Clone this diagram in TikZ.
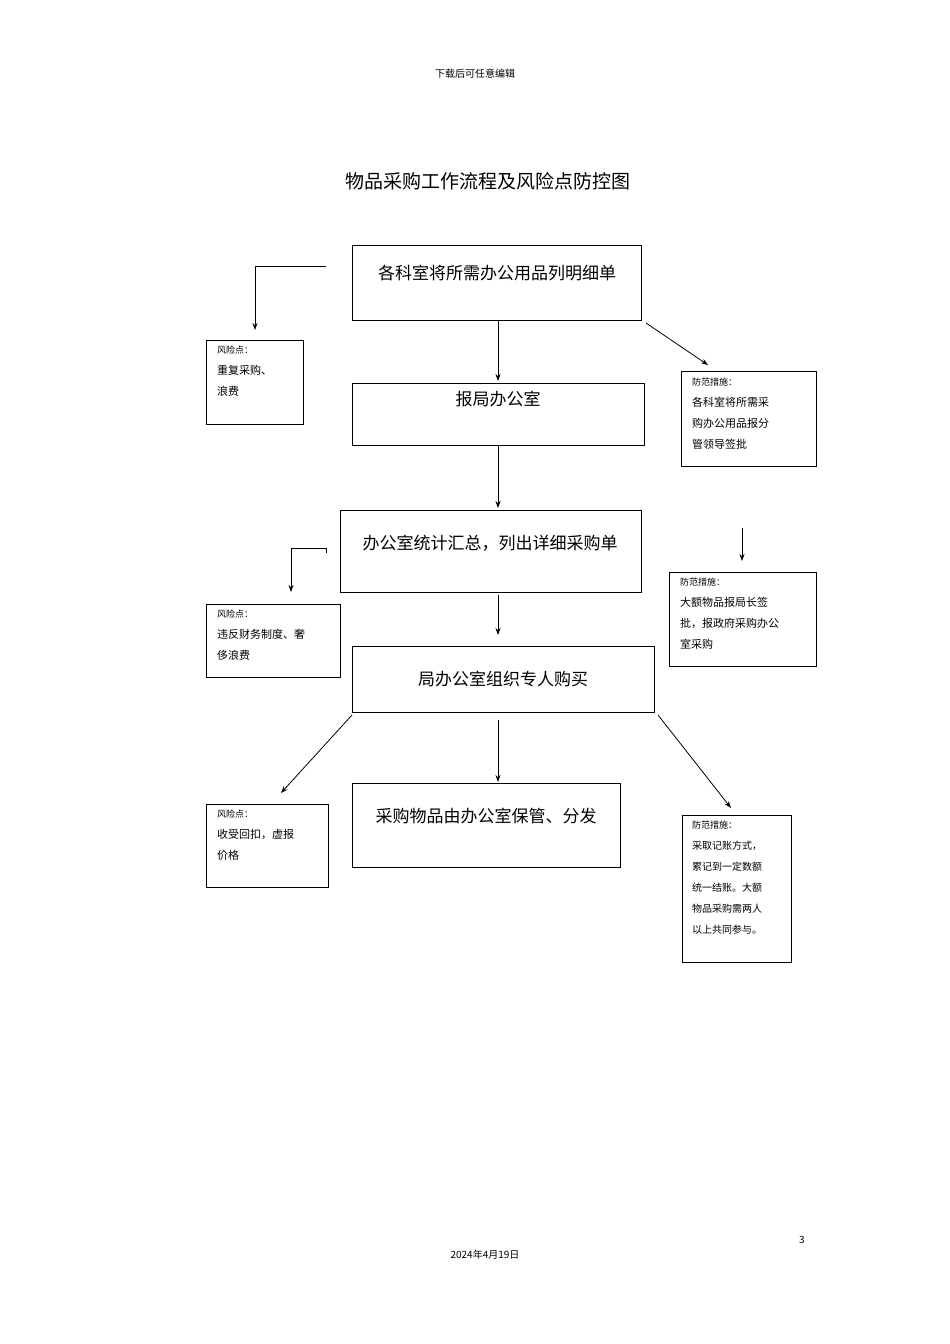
\documentclass[tikz,border=0pt]{standalone}
\usepackage{fontspec}
\usetikzlibrary{arrows.meta}
\setmainfont{Noto Sans CJK SC}
\begin{document}
\begin{tikzpicture}[x=1pt,y=-1pt,
 box/.style={draw,line width=0.6pt},
 big/.style={font=\fontsize{17}{20}\selectfont,anchor=center},
 sm/.style={font=\fontsize{11}{21}\selectfont,align=left,anchor=north west,inner sep=0pt},
 arr/.style={-{Stealth[length=7pt,width=5pt]},line width=0.8pt}]
\useasboundingbox[fill=white] (0,0) rectangle (950,1344);
\node[font=\fontsize{10}{12}\selectfont] (hdr) at (475,74) {下载后可任意编辑};
\node[font=\fontsize{19}{22}\selectfont] (title) at (488,181) {物品采购工作流程及风险点防控图};
% main boxes
\draw[box] (352,245) rectangle (641,320); \node[big] (b1) at (497,273) {各科室将所需办公用品列明细单};
\draw[box] (352,383) rectangle (644,445); \node[big] (b2) at (498,399) {报局办公室};
\draw[box] (340,510) rectangle (641,592); \node[big] (b3) at (490,543) {办公室统计汇总，列出详细采购单};
\draw[box] (352,646) rectangle (654,712); \node[big] (b4) at (503,679) {局办公室组织专人购买};
\draw[box] (352,783) rectangle (620,867); \node[big] (b5) at (486,816) {采购物品由办公室保管、分发};
% side boxes
\draw[box] (206,340) rectangle (303,424);
\node[sm] (r1) at (217,346) {{\fontsize{9}{12}\selectfont 风险点：}\\重复采购、\\浪费};
\draw[box] (681,371) rectangle (816,466);
\node[sm] (p1) at (692,378) {{\fontsize{9}{12}\selectfont 防范措施：}\\各科室将所需采\\购办公用品报分\\管领导签批};
\draw[box] (206,604) rectangle (340,677);
\node[sm] (r2) at (217,610) {{\fontsize{9}{12}\selectfont 风险点：}\\违反财务制度、奢\\侈浪费};
\draw[box] (669,572) rectangle (816,666);
\node[sm] (p2) at (680,578) {{\fontsize{9}{12}\selectfont 防范措施：}\\大额物品报局长签\\批，报政府采购办公\\室采购};
\draw[box] (206,804) rectangle (328,887);
\node[sm] (r3) at (217,810) {{\fontsize{9}{12}\selectfont 风险点：}\\收受回扣，虚报\\价格};
\draw[box] (682,815) rectangle (791,962);
\node[sm,font=\fontsize{10}{21}\selectfont] (p3) at (692,821) {{\fontsize{9}{12}\selectfont 防范措施：}\\采取记账方式，\\累记到一定数额\\统一结账。大额\\物品采购需两人\\以上共同参与。};
% arrows
\draw[arr] (326,266) -- (255,266) -- (255,330);
\draw[arr] (498,320) -- (498,381);
\draw[arr] (646,323) -- (708,365);
\draw[arr] (498,445) -- (498,508);
\draw[line width=0.8pt] (326,553) -- (326,548);
\draw[arr] (326,548) -- (291,548) -- (291,592);
\draw[arr] (742,528) -- (742,561);
\draw[arr] (498,595) -- (498,635);
\draw[arr] (352,715) -- (281,793);
\draw[arr] (498,720) -- (498,782);
\draw[arr] (658,715) -- (731,808);
% footer
\node[font=\fontsize{10}{12}\selectfont] (pg) at (802,1240) {3};
\node[font=\fontsize{10}{12}\selectfont] (date) at (485,1255) {2024年4月19日};
\end{tikzpicture}
\end{document}
